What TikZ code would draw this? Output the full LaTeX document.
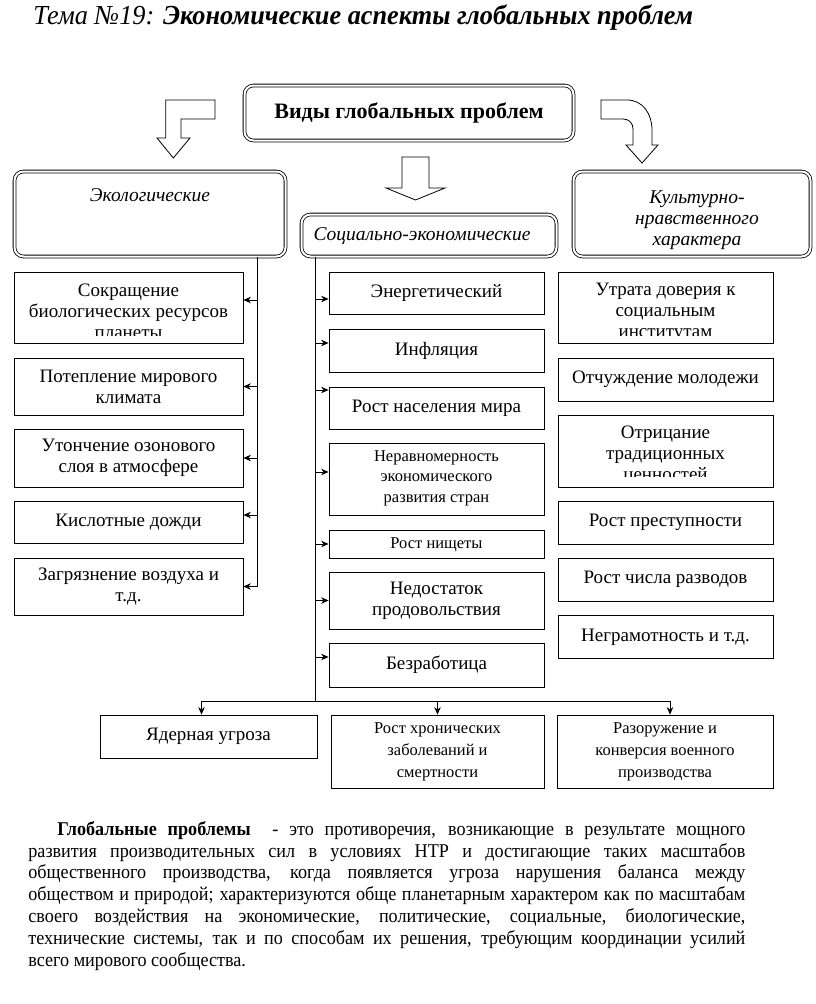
\documentclass[tikz,border=0pt]{standalone}
\usepackage{fontspec}
\setmainfont{Liberation Serif}
\newfontfamily\ttlfont{Liberation Serif}[FakeStretch=0.955]
\newfontfamily\parfont{Liberation Serif}[FakeStretch=0.93]
\usetikzlibrary{arrows.meta}

\tikzset{
  box/.style={draw,line width=0.8pt,inner sep=0pt,align=center,font=\fontsize{19}{21}\selectfont},
  smallbox/.style={box,font=\fontsize{16.5}{20.5}\selectfont},
  hdr/.style={draw,double,double distance=2pt,line width=0.8pt,rounded corners=9pt,inner sep=0pt},
  htxt/.style={align=center,inner sep=0pt,font=\fontsize{19.5}{21}\selectfont\itshape},
  blk/.style={draw,line width=0.8pt,fill=white,line join=miter},
  arr/.style={->,line width=0.8pt}
}

\begin{document}
\begin{tikzpicture}[x=1pt,y=-1pt,line width=0.8pt,>={Stealth[length=7.5pt,width=6.5pt]}]
\useasboundingbox (0,0) rectangle (816,1004);
% ---------- a box whose last line is cut by its frame ----------
% #1 = name, #2/#3 = centre, #4 = width, #5 = height, #6 = text y, #7 = cut, #8 = text
\newcommand{\cutbox}[8]{%
  \node[box,minimum width=#4pt,minimum height=#5pt] (#1) at (#2,#3) {};
  \begin{scope}
    \clip (#1.north west) rectangle ([yshift=#7pt]#1.south east);
    \node[box,draw=none] (#1t) at (#2,#6) {#8};
  \end{scope}
}
% ---------- title ----------
\node[anchor=west,inner sep=0pt,font=\ttlfont\fontsize{27.5}{30}\selectfont] (title) at (33,18)
  {\itshape Тема №19: \bfseries Экономические аспекты глобальных проблем};
% ---------- headers ----------
\node[hdr,minimum width=329pt,minimum height=55pt,font=\fontsize{22}{24}\selectfont\bfseries] (kinds) at (409,113) {Виды глобальных проблем};
\node[hdr,minimum width=271pt,minimum height=85pt] (eco) at (150,214) {};
\node[htxt] (ecot) at (150,195) {Экологические};
\node[hdr,minimum width=255pt,minimum height=42pt] (soc) at (429,235.5) {};
\node[htxt] (soct) at (422,235.5) {Социально-экономические};
\node[hdr,minimum width=237pt,minimum height=85pt] (cult) at (692,214) {};
\node[htxt] (cultt) at (697,220) {Культурно-\\нравственного\\характера};
% ---------- block arrows ----------
\draw[blk] (215,100) -- (165.7,100) -- (165.7,138) -- (157,138) -- (173.3,158) -- (190,138)
  -- (181,138) -- (181,119) -- (215,119) -- cycle;
\draw[blk] (402,157) -- (429,157) -- (429,188) -- (445,188) -- (415.5,200) -- (386,188) -- (402,188) -- cycle;
\draw[blk] (601,100) -- (627,100) .. controls (643,100) and (652,114) .. (652,130) -- (652,145) -- (658,145)
  -- (642,163) -- (626,145) -- (633,145) -- (633,129) .. controls (633,123) and (629,119) .. (623,119)
  -- (601,119) -- cycle;
% ---------- ecological problems ----------
\cutbox{l1}{128.5}{307.5}{229}{71}{311}{8}{Сокращение\\биологических ресурсов\\планеты}
\foreach \n/\y/\h/\t in {l2/386.5/57/{Потепление мирового\\климата},
                         l3/458/58/{Утончение озонового\\слоя в атмосфере},
                         l4/522/42/{Кислотные дожди},
                         l5/586.5/57/{Загрязнение воздуха и\\т.д.}}
  \node[box,minimum width=229pt,minimum height=\h pt] (\n) at (128.5,\y) {\t};
% ---------- socio-economic problems ----------
\foreach \n/\y/\h/\t in {m1/293/42/{Энергетический},
                         m2/350.5/43/{Инфляция},
                         m3/408/42/{Рост населения мира},
                         m6/600.5/57/{Недостаток\\продовольствия},
                         m7/665/44/{Безработица}}
  \node[box,minimum width=215pt,minimum height=\h pt] (\n) at (436.5,\y) {\t};
\node[smallbox,minimum width=215pt,minimum height=72pt,text depth=5pt] (m4) at (436.5,479) {Неравномерность\\экономического\\развития стран};
\node[smallbox,minimum width=215pt,minimum height=28pt,text depth=1pt] (m5) at (436.5,544) {Рост нищеты};
% ---------- cultural problems ----------
\cutbox{r1}{665.5}{307.5}{215}{71}{312}{8}{Утрата доверия к\\социальным\\институтам}
\cutbox{r3}{665.5}{451}{215}{72}{455.5}{11}{Отрицание\\традиционных\\ценностей}
\foreach \n/\y/\t in {r2/379.5/{Отчуждение молодежи},
                      r4/522.5/{Рост преступности},
                      r5/579.5/{Рост числа разводов},
                      r6/637/{Неграмотность и т.д.}}
  \node[box,minimum width=215pt,minimum height=43pt] (\n) at (665.5,\y) {\t};
% ---------- global problems at the bottom ----------
\node[box,minimum width=217pt,minimum height=43pt] (b1) at (208.5,736.5) {Ядерная угроза};
\node[smallbox,minimum width=213pt,minimum height=73pt,font=\fontsize{16.5}{22}\selectfont] (b2) at (437.5,751.5) {Рост хронических\\заболеваний и\\смертности};
\node[smallbox,minimum width=216pt,minimum height=73pt,font=\fontsize{16.5}{22}\selectfont] (b3) at (665,751.5) {Разоружение и\\конверсия военного\\производства};
% ---------- connectors ----------
\coordinate (lsp) at (257,587);
\coordinate (msp) at (315,701);
\draw (eco.south -| lsp) -- (lsp);
\foreach \n/\d in {l1/7.5,l2/0,l3/0,l4/7,l5/0}
  \draw[arr] ([yshift=\d pt]lsp |- \n.east) -- ([yshift=\d pt]\n.east);
\draw (soc.south -| msp) -- (msp);
\foreach \n/\d in {m1/-6,m2/7.5,m3/18,m4/7,m5/0,m6/0,m7/8}
  \draw[arr] ([yshift=\d pt]msp |- \n.west) -- ([yshift=\d pt]\n.west);
\draw ([xshift=-7pt]b1.north |- msp) -- ([xshift=5pt]b3.north |- msp);
\draw[arr] ([xshift=-7pt]b1.north |- msp) -- ([xshift=-7pt]b1.north);
\draw[arr] (b2.north |- msp) -- (b2.north);
\draw[arr] ([xshift=5pt]b3.north |- msp) -- ([xshift=5pt]b3.north);
% ---------- definition ----------
\node[anchor=north west,inner sep=0pt,text width=717pt,align=justify,font=\parfont\fontsize{19.5}{21.8}\selectfont] (def) at (28,821)
  {\hspace*{29pt}\textbf{Глобальные проблемы}\ \ - это противоречия, возникающие в результате мощного\linebreak
   развития производительных сил в условиях НТР и достигающие таких масштабов\linebreak
   общественного производства, когда появляется угроза нарушения баланса между\linebreak
   обществом и природой; характеризуются обще планетарным характером как по масштабам\linebreak
   своего воздействия на экономические, политические, социальные, биологические,\linebreak
   технические системы, так и по способам их решения, требующим координации усилий\linebreak
   всего мирового сообщества.};
\end{tikzpicture}
\end{document}
